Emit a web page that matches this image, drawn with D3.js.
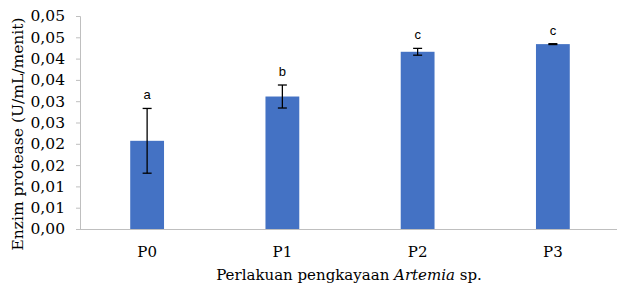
<!DOCTYPE html>
<html>
<head>
<meta charset="utf-8">
<script src="https://cdn.jsdelivr.net/npm/d3@7"></script>
<style>
  body { margin: 0; background: #fff; }
  svg { display: block; }
  .serif { font-family: "DejaVu Serif", serif; }
</style>
</head>
<body>
<svg id="chart"></svg>
<script>
let width = 617;
let height = 285;

// data
let categories = ["P0", "P1", "P2", "P3"];
let means = [0.0207, 0.0311, 0.0416, 0.0434];
let errors = [0.0076, 0.0027, 0.0008, 0.0001];
let letters = ["a", "b", "c", "c"];
let yTicks = [0, 0.005, 0.01, 0.015, 0.02, 0.025, 0.03, 0.035, 0.04, 0.045, 0.05];
let yTickLabels = ["0,00", "0,01", "0,01", "0,02", "0,02", "0,03", "0,03", "0,04", "0,04", "0,05", "0,05"];

let svg = d3.select("#chart")
    .attr("width", width)
    .attr("height", height)

let x = d3.scaleBand()
    .domain(categories)
    .range([79.5, 620.5])
    .paddingInner(0.75)
    .paddingOuter(0.375)

let y = d3.scaleLinear()
    .domain([0, 0.05])
    .range([229, 16])

// y axis
let yAxis = svg.append("g")
    .attr("transform", "translate(80,0)")
    .call(d3.axisLeft(y).tickValues(yTicks).tickSize(4).tickPadding(11)
        .tickFormat((d, i) => yTickLabels[i]))
yAxis.select(".domain").attr("stroke", "#bfbfbf").attr("d", "M-4,16.5H0.5V229")
yAxis.selectAll(".tick line").attr("stroke", "#bfbfbf")
yAxis.selectAll("text")
    .attr("class", "serif")
    .attr("font-size", 15.5)
    .attr("fill", "#000")

// bars
svg.append("g")
    .selectAll("rect")
    .data(means)
    .enter()
    .append("rect")
    .attr("x", (d, i) => x(categories[i]))
    .attr("y", d => y(d))
    .attr("width", x.bandwidth())
    .attr("height", d => y(0) - y(d))
    .attr("fill", "#4472c4")

// x baseline
svg.append("line")
    .attr("x1", 80).attr("x2", width)
    .attr("y1", y(0) + 0.5).attr("y2", y(0) + 0.5)
    .attr("stroke", "#bfbfbf")

// error bars
let err = svg.append("g").attr("stroke", "#000").attr("stroke-width", 1.3)
means.forEach((m, i) => {
    let cx = x(categories[i]) + x.bandwidth() / 2
    let top = y(m + errors[i])
    let bot = y(m - errors[i])
    err.append("line").attr("x1", cx).attr("x2", cx).attr("y1", top).attr("y2", bot)
    err.append("line").attr("x1", cx - 4.5).attr("x2", cx + 4.5).attr("y1", top).attr("y2", top)
    err.append("line").attr("x1", cx - 4.5).attr("x2", cx + 4.5).attr("y1", bot).attr("y2", bot)
})

// significance letters
svg.append("g")
    .selectAll("text")
    .data(letters)
    .enter()
    .append("text")
    .attr("x", (d, i) => x(categories[i]) + x.bandwidth() / 2)
    .attr("y", (d, i) => y(means[i] + errors[i]) - 9)
    .attr("text-anchor", "middle")
    .attr("font-family", "Liberation Sans, Arial, sans-serif")
    .attr("font-size", 13)
    .text(d => d)

// category labels
svg.append("g")
    .selectAll("text")
    .data(categories)
    .enter()
    .append("text")
    .attr("class", "serif")
    .attr("x", d => x(d) + x.bandwidth() / 2)
    .attr("y", 257)
    .attr("text-anchor", "middle")
    .attr("font-size", 15)
    .text(d => d)

// axis titles
let xTitle = svg.append("text")
    .attr("class", "serif")
    .attr("x", 349)
    .attr("y", 280)
    .attr("text-anchor", "middle")
    .attr("font-size", 15)
xTitle.append("tspan").text("Perlakuan pengkayaan ")
xTitle.append("tspan").attr("font-style", "italic").text("Artemia")
xTitle.append("tspan").text(" sp.")

svg.append("text")
    .attr("class", "serif")
    .attr("transform", "translate(23,134) rotate(-90)")
    .attr("text-anchor", "middle")
    .attr("font-size", 15.5)
    .text("Enzim protease (U/mL/menit)")
</script>
</body>
</html>
